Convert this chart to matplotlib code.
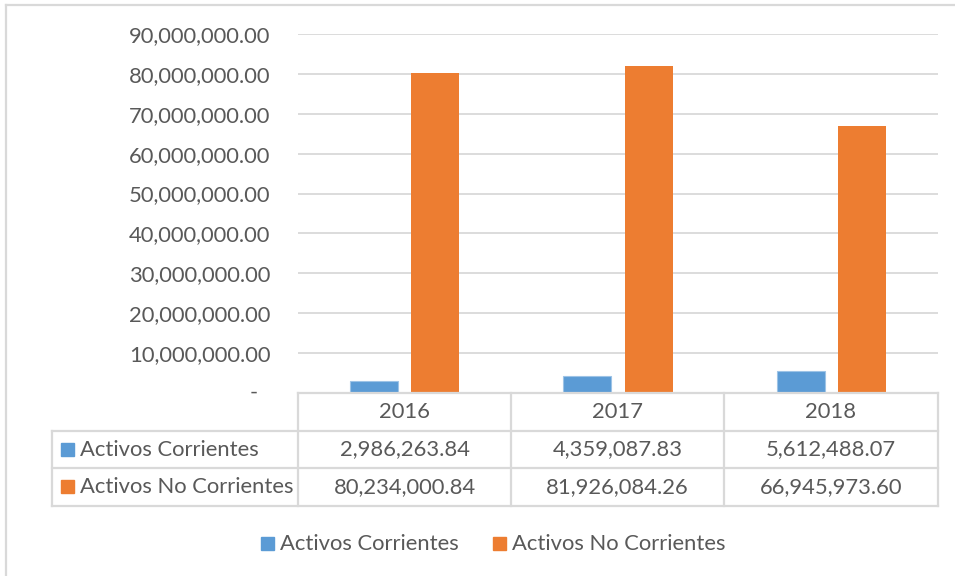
import matplotlib.pyplot as plt
from matplotlib.lines import Line2D
from matplotlib.patches import Rectangle

years = ['2016', '2017', '2018']
series = ['Activos Corrientes', 'Activos No Corrientes']
corrientes = [2986263.84, 4359087.83, 5612488.07]
no_corrientes = [80234000.84, 81926084.26, 66945973.60]
colors = ['#5B9BD5', '#ED7D31']
yticks = [0, 10e6, 20e6, 30e6, 40e6, 50e6, 60e6, 70e6, 80e6, 90e6]

plt.rcParams['font.family'] = ['Lato', 'DejaVu Sans']
txt = '#595959'
grid = '#d9d9d9'
fs = 15.8
W, H = 955, 576

fig = plt.figure(figsize=(W / 100, H / 100), dpi=100)

def fx(px):
    return px / W

def fy(py):
    return 1 - py / H

# plot area in pixel coords
x0, x1, y0, y1 = 298, 938, 34, 393
ax = fig.add_axes([fx(x0), fy(y1), fx(x1) - fx(x0), fy(y0) - fy(y1)])

pos = range(len(years))
bw = 0.225
off = 0.143
ax.bar([p - off for p in pos], corrientes, bw, color=colors[0], edgecolor='#9DC3E6', linewidth=0.8, zorder=3)
ax.bar([p + off for p in pos], no_corrientes, bw, color=colors[1], zorder=3)

ax.set_xlim(-0.5, len(years) - 0.5)
ax.set_ylim(0, 90e6)
ax.set_yticks(yticks)
ax.set_yticklabels([''] + ['{:,.2f}'.format(v) for v in yticks[1:]])
ax.tick_params(axis='y', length=0, pad=20, labelsize=fs, labelcolor=txt)
# accounting format: zero shown as a dash, set in from the right
ax.annotate('-', xy=(0, 0), xycoords='axes fraction', xytext=(-29, 0), textcoords='offset points',
            ha='right', va='center', fontsize=fs, color=txt)
ax.set_xticks([])
ax.yaxis.grid(True, color=grid, linewidth=1.3, zorder=0)
for s in ax.spines.values():
    s.set_visible(False)

# data table below the axes
cols = [298, 511, 724, 938]
rows = [393, 431, 468, 506]
lw = 1.6
fig.add_artist(Line2D([fx(cols[0]), fx(cols[-1])], [fy(rows[0])] * 2, color=grid, lw=lw))
for r in rows[1:]:
    fig.add_artist(Line2D([fx(52), fx(cols[-1])], [fy(r)] * 2, color=grid, lw=lw))
for c in cols:
    fig.add_artist(Line2D([fx(c)] * 2, [fy(rows[0]), fy(rows[-1])], color=grid, lw=lw))
fig.add_artist(Line2D([fx(52)] * 2, [fy(rows[1]), fy(rows[-1])], color=grid, lw=lw))

for i, y in enumerate(years):
    cx = (cols[i] + cols[i + 1]) / 2
    fig.text(fx(cx), fy((rows[0] + rows[1]) / 2), y, ha='center', va='center', fontsize=fs, color=txt)

for j, (name, vals) in enumerate(zip(series, [corrientes, no_corrientes])):
    cy = (rows[j + 1] + rows[j + 2]) / 2
    fig.add_artist(Rectangle((fx(61), fy(cy + 6)), fx(13), 13 / H, color=colors[j]))
    fig.text(fx(80), fy(cy), name, ha='left', va='center', fontsize=fs, color=txt)
    for i, v in enumerate(vals):
        cx = (cols[i] + cols[i + 1]) / 2
        fig.text(fx(cx), fy(cy), '{:,.2f}'.format(v), ha='center', va='center', fontsize=fs, color=txt)

# legend
ly = 544
for name, col, sx in zip(series, colors, [261, 493]):
    fig.add_artist(Rectangle((fx(sx), fy(ly + 6)), fx(13), 13 / H, color=col))
    fig.text(fx(sx + 19), fy(ly), name, ha='left', va='center', fontsize=fs, color=txt)

# chart border (top and left visible)
fig.add_artist(Line2D([fx(6), 1], [fy(5)] * 2, color=grid, lw=1.6))
fig.add_artist(Line2D([fx(6)] * 2, [fy(5), 0], color=grid, lw=1.6))

fig.savefig('out.png', dpi=100)
